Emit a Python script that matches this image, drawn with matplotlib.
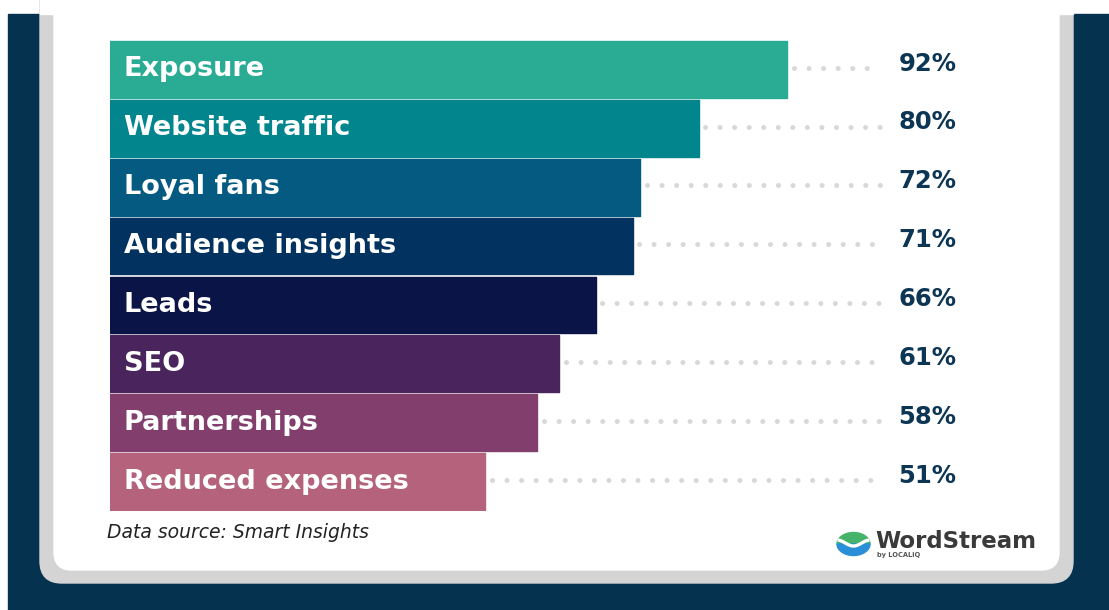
import matplotlib.pyplot as plt
from matplotlib.patches import FancyBboxPatch, Rectangle, Polygon
import numpy as np

categories = ["Exposure", "Website traffic", "Loyal fans", "Audience insights",
              "Leads", "SEO", "Partnerships", "Reduced expenses"]
values = [92, 80, 72, 71, 66, 61, 58, 51]
bar_colors = ["#2aac94", "#03858e", "#045a80", "#02325f",
              "#0b1446", "#4a245c", "#823f6e", "#b5627c"]
source_text = "Data source: Smart Insights"

W, H = 1109, 610
navy = "#05324f"
label_navy = "#0d3554"

fig = plt.figure(figsize=(W / 100, H / 100), dpi=100)
fig.patch.set_facecolor("white")

# background frame drawn in pixel units
bg = fig.add_axes([0, 0, 1, 1])
bg.set_xlim(0, W)
bg.set_ylim(H, 0)
bg.axis("off")
bg.add_patch(Rectangle((8, 14), W - 8, H - 14, color=navy, zorder=0))
bg.add_patch(FancyBboxPatch((40, -40), 1033, 623, boxstyle="round,pad=0,rounding_size=22",
                            color="#d4d4d4", zorder=1))
bg.add_patch(FancyBboxPatch((54, -40), 1005, 610, boxstyle="round,pad=0,rounding_size=18",
                            color="white", zorder=2))
bg.add_patch(Rectangle((40, 0), 1033, 14, color="white", zorder=3))

bg.text(107, 533, source_text, fontsize=13.5, style="italic", color="#222222",
        va="center", ha="left", zorder=4)

# logo: oval split into green/blue halves with a white wave
cx, cy, rx, ry = 853.5, 544, 16.5, 11.5
t = np.linspace(0, np.pi, 60)
top_half = np.column_stack([cx + rx * np.cos(t), cy - ry * np.sin(t)])
bot_half = np.column_stack([cx + rx * np.cos(t), cy + ry * np.sin(t)])
bg.add_patch(Polygon(top_half, closed=True, color="#45b46a", zorder=4))
bg.add_patch(Polygon(bot_half, closed=True, color="#2b8fd8", zorder=4))
wx = np.linspace(cx - rx + 0.5, cx + rx - 0.5, 50)
bg.plot(wx, cy - 1 + 3 * np.cos((wx - cx) / rx * np.pi), color="white", lw=2.4,
        solid_capstyle="butt", zorder=5)
bg.text(875, 541, "WordStream", fontsize=16.5, fontweight="bold", color="#3a3a3a",
        va="center", ha="left", zorder=4)
bg.text(877, 555, "by LOCALiQ", fontsize=4.8, fontweight="bold", color="#555555",
        va="center", ha="left", zorder=4)

# bar chart: x=0 sits at pixel 110, 7.36 px per percentage point
px_per = 7.36
xmax = 120
top, bottom = 40, 511
ax = fig.add_axes([110 / W, (H - bottom) / H, xmax * px_per / W, (bottom - top) / H])
ax.set_xlim(0, xmax)
n = len(values)
ax.set_ylim(n - 0.5, -0.5)
ax.axis("off")
ax.patch.set_alpha(0)

y = np.arange(n)
ax.barh(y, values, height=0.965, color=bar_colors, edgecolor=bar_colors,
        linewidth=1.0, joinstyle="round", zorder=3)

for yi, v, name in zip(y, values, categories):
    ax.plot([v + 0.9, 104.6], [yi - 0.03, yi - 0.03], color="#d8d8d8", lw=3.6,
            linestyle=(0, (0.01, 2.9)), dash_capstyle="round", zorder=2)
    ax.text(1.9, yi, name, fontsize=19.5, fontweight="bold", color="white",
            va="center", ha="left", zorder=4)
    ax.text(107.1, yi - 0.1, f"{v}%", fontsize=17.5, fontweight="bold",
            color=label_navy, va="center", ha="left", zorder=4)

fig.savefig("out.png", dpi=100, facecolor=fig.get_facecolor())
